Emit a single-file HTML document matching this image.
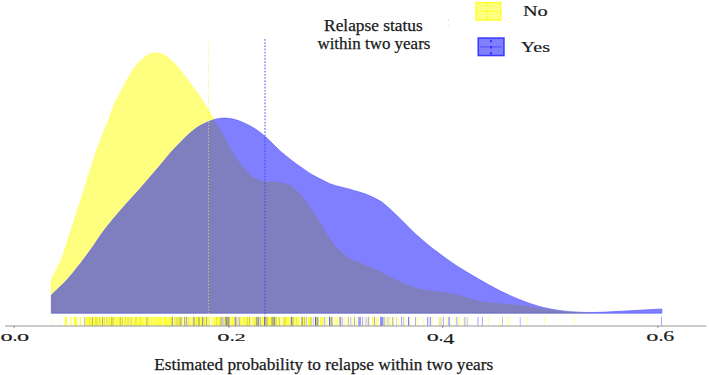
<!DOCTYPE html>
<html><head><meta charset="utf-8"><title>Density plot</title>
<style>
html,body{margin:0;padding:0;background:#fff;}
body{width:709px;height:375px;overflow:hidden;font-family:"Liberation Serif",serif;}
svg{display:block;}
text{font-family:"Liberation Serif",serif;fill:#1a1a1a;}
</style></head><body>
<svg width="709" height="375" viewBox="0 0 709 375">
<rect width="709" height="375" fill="#fff"/>
<!-- densities -->
<path d="M51.35 313.20 L51.35 279.80 C51.96 278.58 53.76 274.97 55.00 272.50 C56.24 270.03 57.60 267.50 58.80 265.00 C60.00 262.50 60.90 260.92 62.20 257.50 C63.50 254.08 65.07 249.17 66.60 244.50 C68.13 239.83 69.47 235.58 71.40 229.50 C73.33 223.42 75.98 214.92 78.20 208.00 C80.42 201.08 82.73 194.17 84.70 188.00 C86.67 181.83 88.17 176.75 90.00 171.00 C91.83 165.25 93.48 159.83 95.70 153.50 C97.92 147.17 101.33 138.08 103.30 133.00 C105.27 127.92 106.25 126.17 107.50 123.00 C108.75 119.83 109.73 116.95 110.80 114.00 C111.87 111.05 112.77 107.97 113.90 105.30 C115.03 102.63 116.42 100.35 117.60 98.00 C118.78 95.65 119.68 93.68 121.00 91.20 C122.32 88.72 124.33 85.22 125.50 83.10 C126.67 80.98 126.75 80.68 128.00 78.50 C129.25 76.32 131.42 72.42 133.00 70.00 C134.58 67.58 135.92 65.82 137.50 64.00 C139.08 62.18 140.50 60.73 142.50 59.10 C144.50 57.47 147.38 55.22 149.50 54.20 C151.62 53.18 153.07 53.00 155.20 53.00 C157.33 53.00 159.72 53.07 162.30 54.20 C164.88 55.33 167.65 57.10 170.70 59.80 C173.75 62.50 177.30 66.40 180.60 70.40 C183.90 74.40 187.20 79.32 190.50 83.80 C193.80 88.28 197.05 92.27 200.40 97.30 C203.75 102.33 208.33 110.27 210.60 114.00 C212.87 117.73 212.23 116.65 214.00 119.70 C215.77 122.75 218.58 127.63 221.20 132.30 C223.82 136.97 226.85 142.87 229.70 147.70 C232.55 152.53 235.92 157.83 238.30 161.30 C240.68 164.77 241.88 166.02 244.00 168.50 C246.12 170.98 248.67 174.28 251.00 176.20 C253.33 178.12 255.67 179.03 258.00 180.00 C260.33 180.97 261.87 181.62 265.00 182.00 C268.13 182.38 272.87 181.80 276.80 182.30 C280.73 182.80 285.82 184.00 288.60 185.00 C291.38 186.00 291.75 186.88 293.50 188.30 C295.25 189.72 297.35 191.67 299.10 193.50 C300.85 195.33 302.35 197.17 304.00 199.30 C305.65 201.43 307.50 204.15 309.00 206.30 C310.50 208.45 311.68 210.22 313.00 212.20 C314.32 214.18 315.68 216.32 316.90 218.20 C318.12 220.08 318.13 219.98 320.30 223.50 C322.47 227.02 326.67 234.68 329.90 239.30 C333.13 243.92 336.08 247.75 339.70 251.20 C343.32 254.65 348.62 258.20 351.60 260.00 C354.58 261.80 352.95 260.02 357.60 262.00 C362.25 263.98 372.57 268.62 379.50 271.90 C386.43 275.18 392.62 278.80 399.20 281.70 C405.78 284.60 412.42 287.58 419.00 289.30 C425.58 291.02 432.12 290.95 438.70 292.00 C445.28 293.05 451.67 294.02 458.50 295.60 C465.33 297.18 472.87 300.12 479.70 301.50 C486.53 302.88 492.92 303.25 499.50 303.90 C506.08 304.55 512.62 304.65 519.20 305.40 C525.78 306.15 532.42 307.47 539.00 308.40 C545.58 309.33 552.12 310.33 558.70 311.00 C565.28 311.67 573.28 312.07 578.50 312.40 C583.72 312.73 588.08 312.90 590.00 313.00 L590.00 313.20 Z" fill="rgb(255,255,0)" fill-opacity="0.5" stroke="#ffff4a" stroke-width="0.9" stroke-opacity="0.7"/>
<path d="M51.35 313.20 L51.35 295.10 C52.46 294.03 55.77 290.83 58.00 288.70 C60.23 286.57 62.28 284.83 64.70 282.30 C67.12 279.77 70.12 276.33 72.50 273.50 C74.88 270.67 77.35 267.38 79.00 265.30 C80.65 263.22 80.15 264.02 82.40 261.00 C84.65 257.98 88.65 252.62 92.50 247.20 C96.35 241.78 100.43 235.08 105.50 228.50 C110.57 221.92 117.03 214.45 122.90 207.70 C128.77 200.95 134.77 194.73 140.70 188.00 C146.63 181.27 153.40 173.30 158.50 167.30 C163.60 161.30 167.73 156.05 171.30 152.00 C174.87 147.95 177.05 145.92 179.90 143.00 C182.75 140.08 185.57 137.05 188.40 134.50 C191.23 131.95 194.05 129.62 196.90 127.70 C199.75 125.78 203.15 124.17 205.50 123.00 C207.85 121.83 209.25 121.33 211.00 120.70 C212.75 120.07 213.87 119.63 216.00 119.20 C218.13 118.77 220.67 118.05 223.80 118.10 C226.93 118.15 231.25 118.62 234.80 119.50 C238.35 120.38 241.68 121.83 245.10 123.40 C248.52 124.97 252.00 126.75 255.30 128.90 C258.60 131.05 261.62 133.45 264.90 136.30 C268.18 139.15 272.02 143.17 275.00 146.00 C277.98 148.83 279.52 150.52 282.80 153.30 C286.08 156.08 291.07 159.97 294.70 162.70 C298.33 165.43 302.05 167.92 304.60 169.70 C307.15 171.48 307.45 171.88 310.00 173.40 C312.55 174.92 316.62 177.08 319.90 178.80 C323.18 180.52 326.42 182.38 329.70 183.70 C332.98 185.02 336.30 185.78 339.60 186.70 C342.90 187.62 346.20 188.30 349.50 189.20 C352.80 190.10 356.12 191.03 359.40 192.10 C362.68 193.17 365.77 194.12 369.20 195.60 C372.63 197.08 377.33 199.47 380.00 201.00 C382.67 202.53 382.03 202.03 385.20 204.80 C388.37 207.57 394.40 213.17 399.00 217.60 C403.60 222.03 407.87 226.78 412.80 231.40 C417.73 236.02 424.12 241.57 428.60 245.30 C433.08 249.03 436.22 251.20 439.70 253.80 C443.18 256.40 446.20 258.60 449.50 260.90 C452.80 263.20 454.50 264.48 459.50 267.60 C464.50 270.72 472.83 275.77 479.50 279.60 C486.17 283.43 492.88 287.28 499.50 290.60 C506.12 293.92 512.62 296.87 519.20 299.50 C525.78 302.13 532.42 304.58 539.00 306.40 C545.58 308.22 552.12 309.43 558.70 310.40 C565.28 311.37 571.62 311.88 578.50 312.20 C585.38 312.52 591.42 312.53 600.00 312.30 C608.58 312.07 619.70 311.35 630.00 310.80 C640.30 310.25 656.50 309.30 661.80 309.00 L661.80 313.20 Z" fill="rgb(0,0,255)" fill-opacity="0.5" stroke="#5a5aff" stroke-width="0.9" stroke-opacity="0.75"/>
<!-- mean lines -->
<line x1="208.5" y1="39" x2="208.5" y2="316.5" stroke="#f6f630" stroke-width="0.8" stroke-dasharray="1.35 1.83" stroke-opacity="0.8"/>
<line x1="265" y1="39" x2="265" y2="316.5" stroke="#3e3eff" stroke-width="1.1" stroke-dasharray="1.7 1.48" stroke-opacity="0.82"/>
<!-- rug -->
<g>
<rect x="51.40" y="316.9" width="0.60" height="9.1" fill="#ffff14" fill-opacity="0.30"/><rect x="60.30" y="316.9" width="0.60" height="9.1" fill="#ffff14" fill-opacity="0.40"/><rect x="64.60" y="316.9" width="2.40" height="9.1" fill="#ffff14" fill-opacity="0.85"/><rect x="70.40" y="316.9" width="1.20" height="9.1" fill="#ffff14" fill-opacity="0.80"/><rect x="73.70" y="316.9" width="3.60" height="9.1" fill="#ffff14" fill-opacity="0.85"/><rect x="79.70" y="316.9" width="1.40" height="9.1" fill="#ffff14" fill-opacity="0.80"/><rect x="83.90" y="316.9" width="0.80" height="9.1" fill="#0000ff" fill-opacity="0.35"/><rect x="85.00" y="316.9" width="213.00" height="9.1" fill="#ffff14" fill-opacity="0.88"/><rect x="88.29" y="316.9" width="0.62" height="9.1" fill="#ffffff" fill-opacity="0.30"/><rect x="89.54" y="316.9" width="0.66" height="9.1" fill="#0000ff" fill-opacity="0.13"/><rect x="90.71" y="316.9" width="0.65" height="9.1" fill="#ffffff" fill-opacity="0.28"/><rect x="91.83" y="316.9" width="0.48" height="9.1" fill="#0000ff" fill-opacity="0.23"/><rect x="93.58" y="316.9" width="0.42" height="9.1" fill="#ffffff" fill-opacity="0.32"/><rect x="96.35" y="316.9" width="0.65" height="9.1" fill="#ffffff" fill-opacity="0.15"/><rect x="97.62" y="316.9" width="0.47" height="9.1" fill="#0000ff" fill-opacity="0.13"/><rect x="98.13" y="316.9" width="0.41" height="9.1" fill="#ffffff" fill-opacity="0.21"/><rect x="99.62" y="316.9" width="0.63" height="9.1" fill="#0000ff" fill-opacity="0.20"/><rect x="100.53" y="316.9" width="0.66" height="9.1" fill="#ffffff" fill-opacity="0.21"/><rect x="102.13" y="316.9" width="0.80" height="9.1" fill="#0000ff" fill-opacity="0.23"/><rect x="103.43" y="316.9" width="0.53" height="9.1" fill="#ffffff" fill-opacity="0.17"/><rect x="104.38" y="316.9" width="0.72" height="9.1" fill="#0000ff" fill-opacity="0.16"/><rect x="106.66" y="316.9" width="0.55" height="9.1" fill="#ffffff" fill-opacity="0.31"/><rect x="107.86" y="316.9" width="0.48" height="9.1" fill="#ffffff" fill-opacity="0.30"/><rect x="109.45" y="316.9" width="0.59" height="9.1" fill="#0000ff" fill-opacity="0.11"/><rect x="110.57" y="316.9" width="0.71" height="9.1" fill="#ffffff" fill-opacity="0.17"/><rect x="111.70" y="316.9" width="0.79" height="9.1" fill="#0000ff" fill-opacity="0.22"/><rect x="112.05" y="316.9" width="0.50" height="9.1" fill="#ffffff" fill-opacity="0.14"/><rect x="113.51" y="316.9" width="0.51" height="9.1" fill="#0000ff" fill-opacity="0.19"/><rect x="114.33" y="316.9" width="0.48" height="9.1" fill="#ffffff" fill-opacity="0.27"/><rect x="115.68" y="316.9" width="0.49" height="9.1" fill="#0000ff" fill-opacity="0.17"/><rect x="116.04" y="316.9" width="0.51" height="9.1" fill="#ffffff" fill-opacity="0.31"/><rect x="117.97" y="316.9" width="0.75" height="9.1" fill="#ffffff" fill-opacity="0.16"/><rect x="119.47" y="316.9" width="0.67" height="9.1" fill="#0000ff" fill-opacity="0.12"/><rect x="121.54" y="316.9" width="0.49" height="9.1" fill="#ffffff" fill-opacity="0.17"/><rect x="123.53" y="316.9" width="0.52" height="9.1" fill="#ffffff" fill-opacity="0.13"/><rect x="124.84" y="316.9" width="0.54" height="9.1" fill="#0000ff" fill-opacity="0.20"/><rect x="125.62" y="316.9" width="0.58" height="9.1" fill="#ffffff" fill-opacity="0.31"/><rect x="126.93" y="316.9" width="0.75" height="9.1" fill="#0000ff" fill-opacity="0.13"/><rect x="127.19" y="316.9" width="0.76" height="9.1" fill="#ffffff" fill-opacity="0.28"/><rect x="128.23" y="316.9" width="0.71" height="9.1" fill="#0000ff" fill-opacity="0.25"/><rect x="128.87" y="316.9" width="0.78" height="9.1" fill="#ffffff" fill-opacity="0.30"/><rect x="131.08" y="316.9" width="0.44" height="9.1" fill="#ffffff" fill-opacity="0.13"/><rect x="132.85" y="316.9" width="0.68" height="9.1" fill="#ffffff" fill-opacity="0.17"/><rect x="135.48" y="316.9" width="0.52" height="9.1" fill="#ffffff" fill-opacity="0.16"/><rect x="136.85" y="316.9" width="0.49" height="9.1" fill="#ffffff" fill-opacity="0.23"/><rect x="139.52" y="316.9" width="0.51" height="9.1" fill="#ffffff" fill-opacity="0.30"/><rect x="140.43" y="316.9" width="0.54" height="9.1" fill="#0000ff" fill-opacity="0.17"/><rect x="140.87" y="316.9" width="0.47" height="9.1" fill="#ffffff" fill-opacity="0.19"/><rect x="142.38" y="316.9" width="0.54" height="9.1" fill="#ffffff" fill-opacity="0.30"/><rect x="145.16" y="316.9" width="0.68" height="9.1" fill="#ffffff" fill-opacity="0.24"/><rect x="146.08" y="316.9" width="0.46" height="9.1" fill="#0000ff" fill-opacity="0.25"/><rect x="148.04" y="316.9" width="0.79" height="9.1" fill="#ffffff" fill-opacity="0.12"/><rect x="150.40" y="316.9" width="0.69" height="9.1" fill="#ffffff" fill-opacity="0.18"/><rect x="151.78" y="316.9" width="0.62" height="9.1" fill="#ffffff" fill-opacity="0.27"/><rect x="154.75" y="316.9" width="0.68" height="9.1" fill="#ffffff" fill-opacity="0.28"/><rect x="156.79" y="316.9" width="0.67" height="9.1" fill="#ffffff" fill-opacity="0.30"/><rect x="158.99" y="316.9" width="0.72" height="9.1" fill="#ffffff" fill-opacity="0.29"/><rect x="161.69" y="316.9" width="0.55" height="9.1" fill="#ffffff" fill-opacity="0.24"/><rect x="163.09" y="316.9" width="0.66" height="9.1" fill="#ffffff" fill-opacity="0.32"/><rect x="166.03" y="316.9" width="0.56" height="9.1" fill="#ffffff" fill-opacity="0.27"/><rect x="168.29" y="316.9" width="0.74" height="9.1" fill="#ffffff" fill-opacity="0.14"/><rect x="169.56" y="316.9" width="0.64" height="9.1" fill="#ffffff" fill-opacity="0.22"/><rect x="170.95" y="316.9" width="0.62" height="9.1" fill="#0000ff" fill-opacity="0.20"/><rect x="172.97" y="316.9" width="0.50" height="9.1" fill="#ffffff" fill-opacity="0.12"/><rect x="174.35" y="316.9" width="0.52" height="9.1" fill="#0000ff" fill-opacity="0.13"/><rect x="176.34" y="316.9" width="0.66" height="9.1" fill="#ffffff" fill-opacity="0.21"/><rect x="178.33" y="316.9" width="0.67" height="9.1" fill="#ffffff" fill-opacity="0.16"/><rect x="179.79" y="316.9" width="0.77" height="9.1" fill="#0000ff" fill-opacity="0.24"/><rect x="180.45" y="316.9" width="0.63" height="9.1" fill="#ffffff" fill-opacity="0.18"/><rect x="181.70" y="316.9" width="0.74" height="9.1" fill="#0000ff" fill-opacity="0.24"/><rect x="183.36" y="316.9" width="0.78" height="9.1" fill="#ffffff" fill-opacity="0.18"/><rect x="184.57" y="316.9" width="0.55" height="9.1" fill="#0000ff" fill-opacity="0.13"/><rect x="185.55" y="316.9" width="0.65" height="9.1" fill="#ffffff" fill-opacity="0.22"/><rect x="187.04" y="316.9" width="0.79" height="9.1" fill="#0000ff" fill-opacity="0.17"/><rect x="186.93" y="316.9" width="0.41" height="9.1" fill="#ffffff" fill-opacity="0.29"/><rect x="188.33" y="316.9" width="0.65" height="9.1" fill="#0000ff" fill-opacity="0.15"/><rect x="190.03" y="316.9" width="0.41" height="9.1" fill="#ffffff" fill-opacity="0.15"/><rect x="190.95" y="316.9" width="0.74" height="9.1" fill="#0000ff" fill-opacity="0.14"/><rect x="191.57" y="316.9" width="0.42" height="9.1" fill="#ffffff" fill-opacity="0.25"/><rect x="192.91" y="316.9" width="0.68" height="9.1" fill="#0000ff" fill-opacity="0.23"/><rect x="195.07" y="316.9" width="0.67" height="9.1" fill="#ffffff" fill-opacity="0.16"/><rect x="196.09" y="316.9" width="0.45" height="9.1" fill="#0000ff" fill-opacity="0.18"/><rect x="197.98" y="316.9" width="0.47" height="9.1" fill="#ffffff" fill-opacity="0.17"/><rect x="199.37" y="316.9" width="0.63" height="9.1" fill="#0000ff" fill-opacity="0.20"/><rect x="201.00" y="316.9" width="0.56" height="9.1" fill="#ffffff" fill-opacity="0.28"/><rect x="202.41" y="316.9" width="0.77" height="9.1" fill="#ffffff" fill-opacity="0.26"/><rect x="203.63" y="316.9" width="0.67" height="9.1" fill="#0000ff" fill-opacity="0.25"/><rect x="204.51" y="316.9" width="0.63" height="9.1" fill="#ffffff" fill-opacity="0.30"/><rect x="207.98" y="316.9" width="0.59" height="9.1" fill="#ffffff" fill-opacity="0.25"/><rect x="209.38" y="316.9" width="0.74" height="9.1" fill="#0000ff" fill-opacity="0.20"/><rect x="210.90" y="316.9" width="0.49" height="9.1" fill="#ffffff" fill-opacity="0.30"/><rect x="214.45" y="316.9" width="0.61" height="9.1" fill="#ffffff" fill-opacity="0.28"/><rect x="215.98" y="316.9" width="0.75" height="9.1" fill="#0000ff" fill-opacity="0.16"/><rect x="215.85" y="316.9" width="0.58" height="9.1" fill="#ffffff" fill-opacity="0.23"/><rect x="218.22" y="316.9" width="0.41" height="9.1" fill="#ffffff" fill-opacity="0.28"/><rect x="219.68" y="316.9" width="0.51" height="9.1" fill="#0000ff" fill-opacity="0.15"/><rect x="221.31" y="316.9" width="0.46" height="9.1" fill="#ffffff" fill-opacity="0.15"/><rect x="222.71" y="316.9" width="0.74" height="9.1" fill="#0000ff" fill-opacity="0.21"/><rect x="224.78" y="316.9" width="0.60" height="9.1" fill="#ffffff" fill-opacity="0.31"/><rect x="225.83" y="316.9" width="0.63" height="9.1" fill="#0000ff" fill-opacity="0.15"/><rect x="227.73" y="316.9" width="0.66" height="9.1" fill="#ffffff" fill-opacity="0.22"/><rect x="230.27" y="316.9" width="0.52" height="9.1" fill="#ffffff" fill-opacity="0.20"/><rect x="233.63" y="316.9" width="0.48" height="9.1" fill="#ffffff" fill-opacity="0.29"/><rect x="236.09" y="316.9" width="0.63" height="9.1" fill="#ffffff" fill-opacity="0.16"/><rect x="237.34" y="316.9" width="0.66" height="9.1" fill="#0000ff" fill-opacity="0.10"/><rect x="239.62" y="316.9" width="0.61" height="9.1" fill="#ffffff" fill-opacity="0.20"/><rect x="242.17" y="316.9" width="0.60" height="9.1" fill="#ffffff" fill-opacity="0.26"/><rect x="243.44" y="316.9" width="0.59" height="9.1" fill="#0000ff" fill-opacity="0.25"/><rect x="245.58" y="316.9" width="0.51" height="9.1" fill="#ffffff" fill-opacity="0.21"/><rect x="246.79" y="316.9" width="0.74" height="9.1" fill="#0000ff" fill-opacity="0.24"/><rect x="247.93" y="316.9" width="0.53" height="9.1" fill="#ffffff" fill-opacity="0.16"/><rect x="251.35" y="316.9" width="0.45" height="9.1" fill="#ffffff" fill-opacity="0.28"/><rect x="252.38" y="316.9" width="0.53" height="9.1" fill="#0000ff" fill-opacity="0.21"/><rect x="253.32" y="316.9" width="0.54" height="9.1" fill="#ffffff" fill-opacity="0.24"/><rect x="254.73" y="316.9" width="0.49" height="9.1" fill="#0000ff" fill-opacity="0.18"/><rect x="255.12" y="316.9" width="0.48" height="9.1" fill="#ffffff" fill-opacity="0.23"/><rect x="256.28" y="316.9" width="0.59" height="9.1" fill="#0000ff" fill-opacity="0.18"/><rect x="256.70" y="316.9" width="0.48" height="9.1" fill="#ffffff" fill-opacity="0.25"/><rect x="259.18" y="316.9" width="0.74" height="9.1" fill="#ffffff" fill-opacity="0.24"/><rect x="260.93" y="316.9" width="0.70" height="9.1" fill="#ffffff" fill-opacity="0.28"/><rect x="262.89" y="316.9" width="0.53" height="9.1" fill="#ffffff" fill-opacity="0.30"/><rect x="264.49" y="316.9" width="0.76" height="9.1" fill="#0000ff" fill-opacity="0.12"/><rect x="264.67" y="316.9" width="0.69" height="9.1" fill="#ffffff" fill-opacity="0.17"/><rect x="266.15" y="316.9" width="0.60" height="9.1" fill="#0000ff" fill-opacity="0.23"/><rect x="266.17" y="316.9" width="0.56" height="9.1" fill="#ffffff" fill-opacity="0.26"/><rect x="267.21" y="316.9" width="0.69" height="9.1" fill="#0000ff" fill-opacity="0.25"/><rect x="269.69" y="316.9" width="0.45" height="9.1" fill="#ffffff" fill-opacity="0.22"/><rect x="272.10" y="316.9" width="0.67" height="9.1" fill="#ffffff" fill-opacity="0.16"/><rect x="273.07" y="316.9" width="0.46" height="9.1" fill="#0000ff" fill-opacity="0.19"/><rect x="274.53" y="316.9" width="0.63" height="9.1" fill="#ffffff" fill-opacity="0.15"/><rect x="275.58" y="316.9" width="0.74" height="9.1" fill="#0000ff" fill-opacity="0.26"/><rect x="277.96" y="316.9" width="0.44" height="9.1" fill="#ffffff" fill-opacity="0.13"/><rect x="280.27" y="316.9" width="0.71" height="9.1" fill="#ffffff" fill-opacity="0.19"/><rect x="281.53" y="316.9" width="0.60" height="9.1" fill="#0000ff" fill-opacity="0.20"/><rect x="281.50" y="316.9" width="0.68" height="9.1" fill="#ffffff" fill-opacity="0.29"/><rect x="282.72" y="316.9" width="0.71" height="9.1" fill="#0000ff" fill-opacity="0.16"/><rect x="283.17" y="316.9" width="0.47" height="9.1" fill="#ffffff" fill-opacity="0.22"/><rect x="284.69" y="316.9" width="0.73" height="9.1" fill="#0000ff" fill-opacity="0.21"/><rect x="286.43" y="316.9" width="0.65" height="9.1" fill="#ffffff" fill-opacity="0.20"/><rect x="288.84" y="316.9" width="0.79" height="9.1" fill="#ffffff" fill-opacity="0.28"/><rect x="290.38" y="316.9" width="0.71" height="9.1" fill="#0000ff" fill-opacity="0.22"/><rect x="292.00" y="316.9" width="0.56" height="9.1" fill="#ffffff" fill-opacity="0.30"/><rect x="294.87" y="316.9" width="0.71" height="9.1" fill="#ffffff" fill-opacity="0.27"/><rect x="296.27" y="316.9" width="0.47" height="9.1" fill="#0000ff" fill-opacity="0.15"/><rect x="297.19" y="316.9" width="0.40" height="9.1" fill="#ffffff" fill-opacity="0.19"/><rect x="92.00" y="316.9" width="0.80" height="9.1" fill="#0000ff" fill-opacity="0.25"/><rect x="95.60" y="316.9" width="0.80" height="9.1" fill="#0000ff" fill-opacity="0.25"/><rect x="101.20" y="316.9" width="1.00" height="9.1" fill="#ffffff" fill-opacity="0.55"/><rect x="105.00" y="316.9" width="1.20" height="9.1" fill="#ffffff" fill-opacity="0.55"/><rect x="115.30" y="316.9" width="0.70" height="9.1" fill="#ffffff" fill-opacity="0.55"/><rect x="122.90" y="316.9" width="0.80" height="9.1" fill="#ffffff" fill-opacity="0.55"/><rect x="128.30" y="316.9" width="0.70" height="9.1" fill="#ffffff" fill-opacity="0.55"/><rect x="132.70" y="316.9" width="0.70" height="9.1" fill="#ffffff" fill-opacity="0.55"/><rect x="136.40" y="316.9" width="0.60" height="9.1" fill="#ffffff" fill-opacity="0.55"/><rect x="143.80" y="316.9" width="1.10" height="9.1" fill="#ffffff" fill-opacity="0.55"/><rect x="102.00" y="316.9" width="0.80" height="9.1" fill="#0000ff" fill-opacity="0.20"/><rect x="106.60" y="316.9" width="0.80" height="9.1" fill="#0000ff" fill-opacity="0.20"/><rect x="111.30" y="316.9" width="0.80" height="9.1" fill="#0000ff" fill-opacity="0.20"/><rect x="120.10" y="316.9" width="0.80" height="9.1" fill="#0000ff" fill-opacity="0.20"/><rect x="121.90" y="316.9" width="0.80" height="9.1" fill="#0000ff" fill-opacity="0.20"/><rect x="130.60" y="316.9" width="0.80" height="9.1" fill="#0000ff" fill-opacity="0.20"/><rect x="135.60" y="316.9" width="0.80" height="9.1" fill="#0000ff" fill-opacity="0.20"/><rect x="146.80" y="316.9" width="0.80" height="9.1" fill="#0000ff" fill-opacity="0.20"/><rect x="149.80" y="316.9" width="1.00" height="9.1" fill="#ffffff" fill-opacity="0.55"/><rect x="153.30" y="316.9" width="1.00" height="9.1" fill="#ffffff" fill-opacity="0.55"/><rect x="161.80" y="316.9" width="1.00" height="9.1" fill="#ffffff" fill-opacity="0.55"/><rect x="172.30" y="316.9" width="0.80" height="9.1" fill="#ffffff" fill-opacity="0.55"/><rect x="172.30" y="316.9" width="0.80" height="9.1" fill="#0000ff" fill-opacity="0.50"/><rect x="173.10" y="316.9" width="1.30" height="9.1" fill="#ffffff" fill-opacity="0.55"/><rect x="175.80" y="316.9" width="0.80" height="9.1" fill="#0000ff" fill-opacity="0.18"/><rect x="177.60" y="316.9" width="0.80" height="9.1" fill="#0000ff" fill-opacity="0.18"/><rect x="179.70" y="316.9" width="0.80" height="9.1" fill="#0000ff" fill-opacity="0.18"/><rect x="180.70" y="316.9" width="0.80" height="9.1" fill="#0000ff" fill-opacity="0.18"/><rect x="181.90" y="316.9" width="2.10" height="9.1" fill="#ffffff" fill-opacity="0.55"/><rect x="184.30" y="316.9" width="0.80" height="9.1" fill="#ffffff" fill-opacity="0.55"/><rect x="184.30" y="316.9" width="0.80" height="9.1" fill="#0000ff" fill-opacity="0.40"/><rect x="186.00" y="316.9" width="0.80" height="9.1" fill="#ffffff" fill-opacity="0.55"/><rect x="186.00" y="316.9" width="0.80" height="9.1" fill="#0000ff" fill-opacity="0.40"/><rect x="187.10" y="316.9" width="1.40" height="9.1" fill="#ffffff" fill-opacity="0.55"/><rect x="191.40" y="316.9" width="1.40" height="9.1" fill="#ffffff" fill-opacity="0.95"/><rect x="192.70" y="316.9" width="0.80" height="9.1" fill="#0000ff" fill-opacity="0.25"/><rect x="194.10" y="316.9" width="0.80" height="9.1" fill="#0000ff" fill-opacity="0.25"/><rect x="198.00" y="316.9" width="1.40" height="9.1" fill="#0000ff" fill-opacity="0.22"/><rect x="202.00" y="316.9" width="0.80" height="9.1" fill="#ffffff" fill-opacity="0.55"/><rect x="202.00" y="316.9" width="0.80" height="9.1" fill="#0000ff" fill-opacity="0.55"/><rect x="206.10" y="316.9" width="0.80" height="9.1" fill="#ffffff" fill-opacity="0.55"/><rect x="206.10" y="316.9" width="0.80" height="9.1" fill="#0000ff" fill-opacity="0.40"/><rect x="209.60" y="316.9" width="1.80" height="9.1" fill="#ffffff" fill-opacity="0.95"/><rect x="211.40" y="316.9" width="2.50" height="9.1" fill="#ffffff" fill-opacity="0.40"/><rect x="220.70" y="316.9" width="0.80" height="9.1" fill="#ffffff" fill-opacity="0.55"/><rect x="220.70" y="316.9" width="0.80" height="9.1" fill="#0000ff" fill-opacity="0.50"/><rect x="222.30" y="316.9" width="1.40" height="9.1" fill="#ffffff" fill-opacity="0.80"/><rect x="222.30" y="316.9" width="1.40" height="9.1" fill="#0000ff" fill-opacity="0.20"/><rect x="224.80" y="316.9" width="4.90" height="9.1" fill="#0000ff" fill-opacity="0.28"/><rect x="226.10" y="316.9" width="0.80" height="9.1" fill="#0000ff" fill-opacity="0.20"/><rect x="227.90" y="316.9" width="0.80" height="9.1" fill="#0000ff" fill-opacity="0.20"/><rect x="230.40" y="316.9" width="1.00" height="9.1" fill="#ffffff" fill-opacity="0.55"/><rect x="234.70" y="316.9" width="1.70" height="9.1" fill="#ffffff" fill-opacity="0.55"/><rect x="234.70" y="316.9" width="1.70" height="9.1" fill="#0000ff" fill-opacity="0.42"/><rect x="237.30" y="316.9" width="1.10" height="9.1" fill="#ffffff" fill-opacity="0.55"/><rect x="238.50" y="316.9" width="1.50" height="9.1" fill="#ffffff" fill-opacity="0.80"/><rect x="238.50" y="316.9" width="1.50" height="9.1" fill="#0000ff" fill-opacity="0.25"/><rect x="242.40" y="316.9" width="1.40" height="9.1" fill="#ffffff" fill-opacity="0.55"/><rect x="249.00" y="316.9" width="1.10" height="9.1" fill="#0000ff" fill-opacity="0.20"/><rect x="250.80" y="316.9" width="1.80" height="9.1" fill="#ffffff" fill-opacity="0.95"/><rect x="256.10" y="316.9" width="1.80" height="9.1" fill="#0000ff" fill-opacity="0.30"/><rect x="258.20" y="316.9" width="0.70" height="9.1" fill="#ffffff" fill-opacity="0.55"/><rect x="258.20" y="316.9" width="0.70" height="9.1" fill="#0000ff" fill-opacity="0.60"/><rect x="259.60" y="316.9" width="1.40" height="9.1" fill="#ffffff" fill-opacity="0.80"/><rect x="259.60" y="316.9" width="1.40" height="9.1" fill="#0000ff" fill-opacity="0.25"/><rect x="264.00" y="316.9" width="1.00" height="9.1" fill="#ffffff" fill-opacity="0.55"/><rect x="264.00" y="316.9" width="1.00" height="9.1" fill="#0000ff" fill-opacity="0.55"/><rect x="265.20" y="316.9" width="1.10" height="9.1" fill="#0000ff" fill-opacity="0.30"/><rect x="271.30" y="316.9" width="2.40" height="9.1" fill="#0000ff" fill-opacity="0.30"/><rect x="274.00" y="316.9" width="0.80" height="9.1" fill="#ffffff" fill-opacity="0.55"/><rect x="274.00" y="316.9" width="0.80" height="9.1" fill="#0000ff" fill-opacity="0.55"/><rect x="277.30" y="316.9" width="1.00" height="9.1" fill="#ffffff" fill-opacity="0.55"/><rect x="278.90" y="316.9" width="0.80" height="9.1" fill="#0000ff" fill-opacity="0.20"/><rect x="280.10" y="316.9" width="1.90" height="9.1" fill="#ffffff" fill-opacity="0.50"/><rect x="282.20" y="316.9" width="0.80" height="9.1" fill="#ffffff" fill-opacity="0.95"/><rect x="289.30" y="316.9" width="1.00" height="9.1" fill="#ffffff" fill-opacity="0.55"/><rect x="291.00" y="316.9" width="0.80" height="9.1" fill="#ffffff" fill-opacity="0.55"/><rect x="291.00" y="316.9" width="0.80" height="9.1" fill="#0000ff" fill-opacity="0.60"/><rect x="292.10" y="316.9" width="1.70" height="9.1" fill="#0000ff" fill-opacity="0.20"/><rect x="294.20" y="316.9" width="0.80" height="9.1" fill="#ffffff" fill-opacity="0.55"/><rect x="297.30" y="316.9" width="0.70" height="9.1" fill="#ffffff" fill-opacity="0.55"/><rect x="298.00" y="316.9" width="1.80" height="9.1" fill="#ffff14" fill-opacity="0.85"/><rect x="301.20" y="316.9" width="4.60" height="9.1" fill="#ffff14" fill-opacity="0.85"/><rect x="301.20" y="316.9" width="1.80" height="9.1" fill="#0000ff" fill-opacity="0.30"/><rect x="304.30" y="316.9" width="0.70" height="9.1" fill="#0000ff" fill-opacity="0.30"/><rect x="306.10" y="316.9" width="1.10" height="9.1" fill="#0000ff" fill-opacity="0.25"/><rect x="307.90" y="316.9" width="4.20" height="9.1" fill="#ffff14" fill-opacity="0.85"/><rect x="310.60" y="316.9" width="0.80" height="9.1" fill="#0000ff" fill-opacity="0.25"/><rect x="312.80" y="316.9" width="1.00" height="9.1" fill="#0000ff" fill-opacity="0.25"/><rect x="315.00" y="316.9" width="3.50" height="9.1" fill="#ffff14" fill-opacity="0.85"/><rect x="315.00" y="316.9" width="1.00" height="9.1" fill="#0000ff" fill-opacity="0.60"/><rect x="316.30" y="316.9" width="2.20" height="9.1" fill="#0000ff" fill-opacity="0.30"/><rect x="319.90" y="316.9" width="3.10" height="9.1" fill="#ffff14" fill-opacity="0.85"/><rect x="323.70" y="316.9" width="1.50" height="9.1" fill="#0000ff" fill-opacity="0.25"/><rect x="325.50" y="316.9" width="2.80" height="9.1" fill="#ffff14" fill-opacity="0.45"/><rect x="329.00" y="316.9" width="1.00" height="9.1" fill="#0000ff" fill-opacity="0.60"/><rect x="330.40" y="316.9" width="2.20" height="9.1" fill="#ffff14" fill-opacity="0.80"/><rect x="330.40" y="316.9" width="2.20" height="9.1" fill="#0000ff" fill-opacity="0.30"/><rect x="334.30" y="316.9" width="4.20" height="9.1" fill="#ffff14" fill-opacity="0.45"/><rect x="339.30" y="316.9" width="1.70" height="9.1" fill="#ffff14" fill-opacity="0.50"/><rect x="339.30" y="316.9" width="1.70" height="9.1" fill="#0000ff" fill-opacity="0.35"/><rect x="341.40" y="316.9" width="1.70" height="9.1" fill="#0000ff" fill-opacity="0.21"/><rect x="343.80" y="316.9" width="1.40" height="9.1" fill="#ffff14" fill-opacity="0.42"/><rect x="347.30" y="316.9" width="1.50" height="9.1" fill="#ffff14" fill-opacity="0.68"/><rect x="348.00" y="316.9" width="0.80" height="9.1" fill="#0000ff" fill-opacity="0.26"/><rect x="350.10" y="316.9" width="1.40" height="9.1" fill="#0000ff" fill-opacity="0.21"/><rect x="350.10" y="316.9" width="1.40" height="9.1" fill="#ffff14" fill-opacity="0.17"/><rect x="351.90" y="316.9" width="1.40" height="9.1" fill="#ffff14" fill-opacity="0.38"/><rect x="354.00" y="316.9" width="1.00" height="9.1" fill="#ffff14" fill-opacity="0.34"/><rect x="354.00" y="316.9" width="1.00" height="9.1" fill="#0000ff" fill-opacity="0.30"/><rect x="355.40" y="316.9" width="2.10" height="9.1" fill="#ffff14" fill-opacity="0.38"/><rect x="358.20" y="316.9" width="2.80" height="9.1" fill="#0000ff" fill-opacity="0.38"/><rect x="362.00" y="316.9" width="0.80" height="9.1" fill="#0000ff" fill-opacity="0.42"/><rect x="363.20" y="316.9" width="1.40" height="9.1" fill="#ffff14" fill-opacity="0.38"/><rect x="365.30" y="316.9" width="1.40" height="9.1" fill="#0000ff" fill-opacity="0.21"/><rect x="367.70" y="316.9" width="1.50" height="9.1" fill="#ffff14" fill-opacity="0.59"/><rect x="367.70" y="316.9" width="1.50" height="9.1" fill="#0000ff" fill-opacity="0.26"/><rect x="372.00" y="316.9" width="1.70" height="9.1" fill="#ffff14" fill-opacity="0.68"/><rect x="374.00" y="316.9" width="0.80" height="9.1" fill="#0000ff" fill-opacity="0.42"/><rect x="375.20" y="316.9" width="3.80" height="9.1" fill="#ffff14" fill-opacity="0.47"/><rect x="380.10" y="316.9" width="2.80" height="9.1" fill="#0000ff" fill-opacity="0.47"/><rect x="383.30" y="316.9" width="1.40" height="9.1" fill="#ffff14" fill-opacity="0.34"/><rect x="383.30" y="316.9" width="1.40" height="9.1" fill="#0000ff" fill-opacity="0.30"/><rect x="385.00" y="316.9" width="1.40" height="9.1" fill="#ffff14" fill-opacity="0.59"/><rect x="387.10" y="316.9" width="1.40" height="9.1" fill="#0000ff" fill-opacity="0.21"/><rect x="388.90" y="316.9" width="1.80" height="9.1" fill="#ffff14" fill-opacity="0.59"/><rect x="392.00" y="316.9" width="1.50" height="9.1" fill="#ffff14" fill-opacity="0.59"/><rect x="392.00" y="316.9" width="1.50" height="9.1" fill="#0000ff" fill-opacity="0.21"/><rect x="396.00" y="316.9" width="0.70" height="9.1" fill="#ffff14" fill-opacity="0.59"/><rect x="396.00" y="316.9" width="0.70" height="9.1" fill="#0000ff" fill-opacity="0.21"/><rect x="398.00" y="316.9" width="1.40" height="9.1" fill="#ffff14" fill-opacity="0.38"/><rect x="401.00" y="316.9" width="0.90" height="9.1" fill="#0000ff" fill-opacity="0.38"/><rect x="402.80" y="316.9" width="0.80" height="9.1" fill="#ffff14" fill-opacity="0.26"/><rect x="402.80" y="316.9" width="0.80" height="9.1" fill="#0000ff" fill-opacity="0.30"/><rect x="404.00" y="316.9" width="1.40" height="9.1" fill="#ffff14" fill-opacity="0.38"/><rect x="408.00" y="316.9" width="1.30" height="9.1" fill="#0000ff" fill-opacity="0.51"/><rect x="409.60" y="316.9" width="1.10" height="9.1" fill="#ffff14" fill-opacity="0.34"/><rect x="415.00" y="316.9" width="1.00" height="9.1" fill="#ffff14" fill-opacity="0.26"/><rect x="415.00" y="316.9" width="1.00" height="9.1" fill="#0000ff" fill-opacity="0.30"/><rect x="416.70" y="316.9" width="1.40" height="9.1" fill="#ffff14" fill-opacity="0.38"/><rect x="423.00" y="316.9" width="1.40" height="9.1" fill="#ffff14" fill-opacity="0.38"/><rect x="427.00" y="316.9" width="1.30" height="9.1" fill="#0000ff" fill-opacity="0.38"/><rect x="429.70" y="316.9" width="1.40" height="9.1" fill="#0000ff" fill-opacity="0.38"/><rect x="431.50" y="316.9" width="1.40" height="9.1" fill="#ffff14" fill-opacity="0.38"/><rect x="438.50" y="316.9" width="3.60" height="9.1" fill="#ffff14" fill-opacity="0.34"/><rect x="438.50" y="316.9" width="3.60" height="9.1" fill="#0000ff" fill-opacity="0.07"/><rect x="442.80" y="316.9" width="1.00" height="9.1" fill="#0000ff" fill-opacity="0.34"/><rect x="446.00" y="316.9" width="1.40" height="9.1" fill="#ffff14" fill-opacity="0.38"/><rect x="448.40" y="316.9" width="1.40" height="9.1" fill="#0000ff" fill-opacity="0.42"/><rect x="450.10" y="316.9" width="0.80" height="9.1" fill="#ffff14" fill-opacity="0.34"/><rect x="455.00" y="316.9" width="0.80" height="9.1" fill="#ffff14" fill-opacity="0.38"/><rect x="456.10" y="316.9" width="1.40" height="9.1" fill="#0000ff" fill-opacity="0.26"/><rect x="458.20" y="316.9" width="1.80" height="9.1" fill="#ffff14" fill-opacity="0.38"/><rect x="463.00" y="316.9" width="0.80" height="9.1" fill="#ffff14" fill-opacity="0.38"/><rect x="464.20" y="316.9" width="1.40" height="9.1" fill="#0000ff" fill-opacity="0.26"/><rect x="466.70" y="316.9" width="1.40" height="9.1" fill="#ffff14" fill-opacity="0.51"/><rect x="466.70" y="316.9" width="1.40" height="9.1" fill="#0000ff" fill-opacity="0.13"/><rect x="477.30" y="316.9" width="1.40" height="9.1" fill="#0000ff" fill-opacity="0.26"/><rect x="481.90" y="316.9" width="1.00" height="9.1" fill="#0000ff" fill-opacity="0.34"/><rect x="487.80" y="316.9" width="1.10" height="9.1" fill="#ffff14" fill-opacity="0.42"/><rect x="499.65" y="316.9" width="0.90" height="9.1" fill="#ffff14" fill-opacity="0.42"/><rect x="505.95" y="316.9" width="0.90" height="9.1" fill="#ffff14" fill-opacity="0.42"/><rect x="508.55" y="316.9" width="0.90" height="9.1" fill="#ffff14" fill-opacity="0.42"/><rect x="526.65" y="316.9" width="0.90" height="9.1" fill="#ffff14" fill-opacity="0.42"/><rect x="544.05" y="316.9" width="0.90" height="9.1" fill="#ffff14" fill-opacity="0.42"/><rect x="574.05" y="316.9" width="0.90" height="9.1" fill="#ffff14" fill-opacity="0.42"/><rect x="502.10" y="316.9" width="0.80" height="9.1" fill="#0000ff" fill-opacity="0.30"/><rect x="519.80" y="316.9" width="0.80" height="9.1" fill="#0000ff" fill-opacity="0.34"/><rect x="661.10" y="316.9" width="0.80" height="9.1" fill="#0000ff" fill-opacity="0.42"/>
</g>
<rect x="448.2" y="19.3" width="0.8" height="1.6" fill="#ccd3de"/><rect x="448.2" y="25" width="0.9" height="1.2" fill="#ccd3de"/>
<!-- axis -->
<line x1="5" y1="326" x2="706.5" y2="326" stroke="#9a9a9a" stroke-width="1.1"/>
<g stroke="#555" stroke-width="0.9">
<line x1="14.1" y1="326" x2="14.1" y2="327.6"/><line x1="229" y1="326" x2="229" y2="327.6"/>
<line x1="442.7" y1="326" x2="442.7" y2="327.6"/><line x1="657.9" y1="326" x2="657.9" y2="327.6"/>
</g>
<!-- tick labels -->
<g fill="#111" stroke="#111" stroke-width="0.2" vector-effect="non-scaling-stroke" style="vector-effect:non-scaling-stroke">
<text transform="translate(0.57 341.21) scale(2.435 1.053)" font-size="10" vector-effect="non-scaling-stroke">0</text><text transform="translate(12.72 341.08) scale(1.795 1.709)" font-size="10" vector-effect="non-scaling-stroke">.</text><text transform="translate(16.97 341.21) scale(2.435 1.053)" font-size="10" vector-effect="non-scaling-stroke">0</text>
<text transform="translate(217.27 341.21) scale(2.459 1.053)" font-size="10" vector-effect="non-scaling-stroke">0</text><text transform="translate(230.02 341.08) scale(1.795 1.709)" font-size="10" vector-effect="non-scaling-stroke">.</text><text transform="translate(234.40 341.21) scale(2.275 1.059)" font-size="10" vector-effect="non-scaling-stroke">2</text>
<text transform="translate(426.68 341.21) scale(2.411 1.053)" font-size="10" vector-effect="non-scaling-stroke">0</text><text transform="translate(438.82 341.08) scale(1.795 1.709)" font-size="10" vector-effect="non-scaling-stroke">.</text><text transform="translate(443.16 343.71) scale(2.225 1.446)" font-size="10" vector-effect="non-scaling-stroke">4</text>
<text transform="translate(646.37 341.21) scale(2.435 1.053)" font-size="10" vector-effect="non-scaling-stroke">0</text><text transform="translate(658.82 341.08) scale(1.795 1.709)" font-size="10" vector-effect="non-scaling-stroke">.</text><text transform="translate(663.16 341.17) scale(2.183 1.446)" font-size="10" vector-effect="non-scaling-stroke">6</text>
</g>
<!-- axis title -->
<text id="xt" stroke="#1a1a1a" stroke-width="0.25" x="154.2" y="370.4" font-size="16.1" textLength="339" lengthAdjust="spacingAndGlyphs">Estimated probability to relapse within two years</text>
<!-- legend title -->
<text id="lt1" stroke="#1a1a1a" stroke-width="0.25" x="324.1" y="30.6" font-size="16.4" textLength="98.7" lengthAdjust="spacingAndGlyphs">Relapse status</text>
<text id="lt2" stroke="#1a1a1a" stroke-width="0.25" x="317.4" y="49" font-size="16.4" textLength="113" lengthAdjust="spacingAndGlyphs">within two years</text>
<!-- legend keys -->
<g>
<rect x="476" y="2.6" width="24.7" height="17.5" fill="#ffff80" stroke="#ffff20" stroke-width="1.3"/>
<line x1="477" y1="11.3" x2="500" y2="11.3" stroke="#ffff30" stroke-width="1.1"/>
<line x1="487.8" y1="3.7" x2="487.8" y2="20" stroke="#fafa00" stroke-width="1.3" stroke-dasharray="2.4 3.9"/>
<rect x="478.25" y="38.05" width="25.7" height="17.5" fill="#8080ff" stroke="#3838ff" stroke-width="1.5"/>
<line x1="480" y1="46.9" x2="501.5" y2="46.9" stroke="#5555ff" stroke-width="1.2"/>
<line x1="491" y1="39.7" x2="491" y2="55.4" stroke="#2222ff" stroke-width="1.5" stroke-dasharray="2.6 3.6"/>
</g>
<g stroke="#1a1a1a" stroke-width="0.18">
<text x="522.9" y="15.8" font-size="13.8" textLength="24.9" lengthAdjust="spacingAndGlyphs">No</text>
<text x="520.8" y="51.5" font-size="13.8" textLength="29.2" lengthAdjust="spacingAndGlyphs">Yes</text>
</g>
</svg>
</body></html>
